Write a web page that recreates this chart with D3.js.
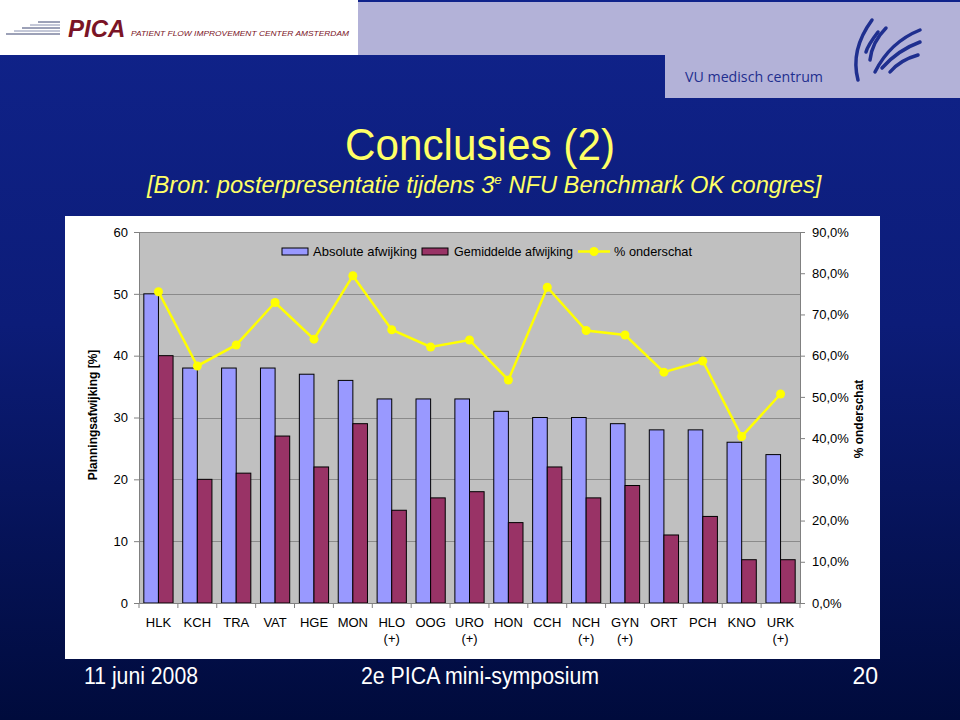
<!DOCTYPE html>
<html><head><meta charset="utf-8">
<script src="https://cdn.jsdelivr.net/npm/d3@7"></script>
<style>body{margin:0;background:#000;}svg{display:block;font-family:"Liberation Sans",Arial,sans-serif;}</style>
</head><body>
<svg id="c" width="960" height="720"></svg>
<script>
const categories = ["HLK","KCH","TRA","VAT","HGE","MON","HLO","OOG","URO","HON","CCH","NCH","GYN","ORT","PCH","KNO","URK"];
const subLabels  = ["","","","","","","(+)","","(+)","","","(+)","(+)","","","","(+)"];
const absolute   = [50,38,38,38,37,36,33,33,33,31,30,30,29,28,28,26,24];
const gemiddelde = [40,20,21,27,22,29,15,17,18,13,22,17,19,11,14,7,7];
const onderschat = [75.5,57.5,62.6,72.9,64.0,79.4,66.3,62.1,63.8,54.1,76.6,66.1,65.0,56.0,58.7,40.4,50.7];
const leftTicks  = [0,10,20,30,40,50,60];
const rightTicks = [0,10,20,30,40,50,60,70,80,90];
const seriesNames = ["Absolute afwijking","Gemiddelde afwijking","% onderschat"];

const svg = d3.select("#c");
// background
const defs = svg.append("defs");
const g = defs.append("linearGradient").attr("id","bg").attr("x1",0).attr("y1",0).attr("x2",0).attr("y2",1);
g.append("stop").attr("offset","0").attr("stop-color","#10238b");
g.append("stop").attr("offset","0.45").attr("stop-color","#0c1c78");
g.append("stop").attr("offset","1").attr("stop-color","#000b3c");
svg.append("rect").attr("width",960).attr("height",720).attr("fill","url(#bg)");

// header
svg.append("rect").attr("x",358).attr("y",2).attr("width",602).attr("height",53).attr("fill","#b3b2d8");
svg.append("rect").attr("x",665).attr("y",55).attr("width",295).attr("height",43).attr("fill","#b3b2d8");
svg.append("rect").attr("x",0).attr("y",0).attr("width",358).attr("height",55).attr("fill","#ffffff");
// PICA speed lines
[[6,60,34],[14,60,31],[22,60,28],[30,60,25],[38,60,22]].forEach((d,i)=>{
  svg.append("line").attr("x1",d[0]).attr("x2",d[1]).attr("y1",d[2]).attr("y2",d[2])
    .attr("stroke", i%2? "#8890b0":"#3a4470").attr("stroke-width",1);
});
svg.append("text").attr("x",68).attr("y",37).attr("font-size",24).attr("font-style","italic").attr("font-weight","bold")
  .attr("fill","#7a1426").text("PICA");
svg.append("text").attr("x",131).attr("y",36).attr("font-size",8).attr("font-style","italic")
  .attr("fill","#7a1426").attr("textLength",218).attr("lengthAdjust","spacingAndGlyphs")
  .text("PATIENT FLOW IMPROVEMENT CENTER AMSTERDAM");
// VU logo
svg.append("text").attr("x",685).attr("y",82).attr("font-size",15).attr("fill","#1f2f8f")
  .attr("font-family","'Open Sans',sans-serif").attr("textLength",138).attr("lengthAdjust","spacingAndGlyphs")
  .text("VU medisch centrum");
const sw = svg.append("g").attr("fill","none").attr("stroke","#1f2f8f").attr("stroke-width",3.5).attr("stroke-linecap","round");
["M872,20 Q850,50 858,80","M878,32 Q868,45 866,52","M886,28 Q872,42 870,60","M920,30 Q890,42 875,72","M920,42 Q898,50 882,68","M918,55 Q900,60 890,72"]
  .forEach(p=>sw.append("path").attr("d",p));

// titles
svg.append("text").attr("x",480).attr("y",160).attr("text-anchor","middle").attr("font-size",44)
  .attr("fill","#ffff66").attr("textLength",270).attr("lengthAdjust","spacingAndGlyphs").text("Conclusies (2)");
const sub = svg.append("text").attr("x",147).attr("y",193).attr("font-size",23).attr("font-style","italic")
  .attr("fill","#ffff66");
sub.append("tspan").text("[Bron: posterpresentatie tijdens 3");
sub.append("tspan").attr("font-size",13).attr("dy",-9).text("e");
sub.append("tspan").attr("dy",9).text(" NFU Benchmark OK congres]");
// compress subtitle to reference width
const sb = sub.node().getComputedTextLength();
sub.attr("transform",`translate(147,0) scale(${675/sb},1) translate(-147,0)`);

// footer
svg.append("text").attr("x",84).attr("y",684).attr("font-size",23).attr("fill","#ffffff")
  .attr("textLength",114).attr("lengthAdjust","spacingAndGlyphs").text("11 juni 2008");
svg.append("text").attr("x",361).attr("y",684).attr("font-size",23).attr("fill","#ffffff")
  .attr("textLength",238).attr("lengthAdjust","spacingAndGlyphs").text("2e PICA mini-symposium");
svg.append("text").attr("x",878).attr("y",684).attr("text-anchor","end").attr("font-size",23).attr("fill","#ffffff")
  .text("20");

// chart panel
svg.append("rect").attr("x",65).attr("y",216).attr("width",815).attr("height",443).attr("fill","#ffffff");

const L=139, R=800, T=232, B=603;
const x = d3.scaleBand().domain(categories).range([L,R]);
const yL = d3.scaleLinear().domain([0,60]).range([B,T]);
const yR = d3.scaleLinear().domain([0,90]).range([B,T]);
const inner = d3.scaleBand().domain([0,1]).range([0,x.bandwidth()]).paddingInner(0).paddingOuter(0.33);

svg.append("rect").attr("x",L).attr("y",T).attr("width",R-L).attr("height",B-T).attr("fill","#c0c0c0");
// gridlines
svg.append("g").selectAll("line").data(leftTicks.filter(d=>d>0)).join("line")
  .attr("x1",L).attr("x2",R).attr("y1",d=>Math.round(yL(d))+0.5).attr("y2",d=>Math.round(yL(d))+0.5)
  .attr("stroke","#8a8a8a").attr("stroke-width",1);

// bars
const bars = svg.append("g");
bars.selectAll("rect.a").data(absolute).join("rect").attr("class","a")
  .attr("x",(d,i)=>x(categories[i])+inner(0)).attr("width",inner.bandwidth())
  .attr("y",d=>yL(d)).attr("height",d=>B-yL(d))
  .attr("fill","#9999ff").attr("stroke","#000").attr("stroke-width",1);
bars.selectAll("rect.b").data(gemiddelde).join("rect").attr("class","b")
  .attr("x",(d,i)=>x(categories[i])+inner(1)).attr("width",inner.bandwidth())
  .attr("y",d=>yL(d)).attr("height",d=>B-yL(d))
  .attr("fill","#993366").attr("stroke","#000").attr("stroke-width",1);

// axes
const axL = svg.append("g").attr("transform",`translate(${L},0)`)
  .call(d3.axisLeft(yL).tickValues(leftTicks).tickSize(5).tickPadding(6).tickFormat(d3.format("d")));
const axR = svg.append("g").attr("transform",`translate(${R},0)`)
  .call(d3.axisRight(yR).tickValues(rightTicks).tickSize(5).tickPadding(7).tickFormat(d=>d.toFixed(1).replace(".",",")+"%"));
const axB = svg.append("g").attr("transform",`translate(0,${B})`)
  .call(d3.axisBottom(x).tickSize(0).tickPadding(12));
[axL,axR,axB].forEach(a=>{
  a.select(".domain").attr("stroke","#808080");
  a.selectAll(".tick line").attr("stroke","#808080");
  a.selectAll("text").attr("font-size",13).attr("fill","#000").attr("font-family","'Liberation Sans',Arial,sans-serif");
});
axB.selectAll(".tick text").attr("dy","0.9em");
// category separator ticks
svg.append("g").selectAll("line").data(categories.concat(["_end"])).join("line")
  .attr("x1",(d,i)=>L+i*x.step()).attr("x2",(d,i)=>L+i*x.step())
  .attr("y1",B).attr("y2",B+5).attr("stroke","#808080");
// sub labels
svg.append("g").selectAll("text").data(subLabels).join("text")
  .attr("x",(d,i)=>x(categories[i])+x.bandwidth()/2).attr("y",643)
  .attr("text-anchor","middle").attr("font-size",13).text(d=>d);

// line
const line = d3.line().x((d,i)=>x(categories[i])+x.bandwidth()/2).y(d=>yR(d));
svg.append("path").datum(onderschat).attr("d",line).attr("fill","none").attr("stroke","#ffff00").attr("stroke-width",2.5);
svg.append("g").selectAll("circle").data(onderschat).join("circle")
  .attr("cx",(d,i)=>x(categories[i])+x.bandwidth()/2).attr("cy",d=>yR(d)).attr("r",4.5).attr("fill","#ffff00");

// legend
const lg = svg.append("g");
lg.append("rect").attr("x",282).attr("y",248).attr("width",26).attr("height",7).attr("fill","#9999ff").attr("stroke","#000");
lg.append("text").attr("x",313).attr("y",256).attr("font-size",13).attr("textLength",104).attr("lengthAdjust","spacingAndGlyphs").text(seriesNames[0]);
lg.append("rect").attr("x",422).attr("y",248).attr("width",26).attr("height",7).attr("fill","#993366").attr("stroke","#000");
lg.append("text").attr("x",454).attr("y",256).attr("font-size",13).attr("textLength",119).attr("lengthAdjust","spacingAndGlyphs").text(seriesNames[1]);
lg.append("line").attr("x1",578).attr("x2",610).attr("y1",251.5).attr("y2",251.5).attr("stroke","#ffff00").attr("stroke-width",2.5);
lg.append("circle").attr("cx",594).attr("cy",251.5).attr("r",4.5).attr("fill","#ffff00");
lg.append("text").attr("x",614).attr("y",256).attr("font-size",13).attr("textLength",78).attr("lengthAdjust","spacingAndGlyphs").text(seriesNames[2]);

// axis titles
svg.append("text").attr("transform","translate(97,415) rotate(-90)").attr("text-anchor","middle")
  .attr("font-size",12).attr("font-weight","bold").text("Planningsafwijking [%]");
svg.append("text").attr("transform","translate(863,419) rotate(-90)").attr("text-anchor","middle")
  .attr("font-size",12).attr("font-weight","bold").text("% onderschat");
</script>
</body></html>
